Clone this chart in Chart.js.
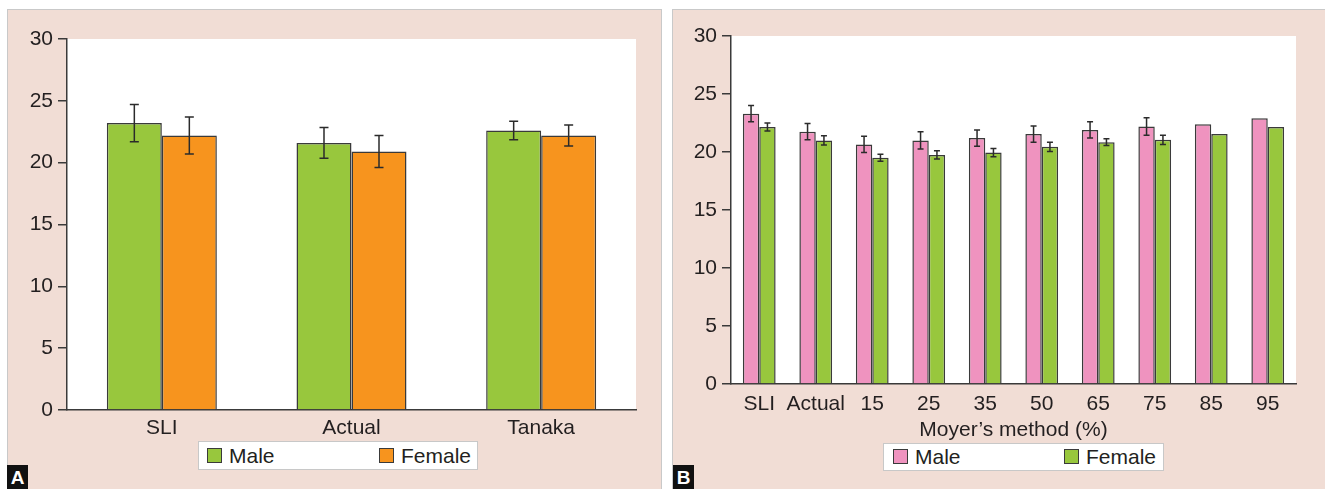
<!DOCTYPE html>
<html>
<head>
<meta charset="utf-8">
<script src="https://cdn.jsdelivr.net/npm/chart.js@4.4.1/dist/chart.umd.min.js"></script>
<style>
    body { margin: 0; width: 1325px; height: 489px; background: #fff; position: relative; overflow: hidden;
           font-family: "Liberation Sans", Arial, sans-serif; color: #231f20; }
    .panel { position: absolute; top: 9px; height: 480px; background: #f1ddd5; box-sizing: border-box;
             border: 1px solid #c9c9c9; border-bottom: none; }
    .panel canvas { position: absolute; left: 0; top: 0; }
    .legend { position: absolute; background: #fff; border: 1px solid #c8c8c8; box-sizing: border-box; }
    .legend .sw { position: absolute; top: 6px; width: 15px; height: 15px; box-sizing: border-box; border: 1px solid #3a3a3a; }
    .legend .lb { position: absolute; top: 1px; font-size: 21px; line-height: 25px; }
    .tag { position: absolute; background: #111; color: #fff; font-weight: bold; font-size: 19px;
           width: 21px; height: 24px; line-height: 25px; text-align: center; }
</style>
</head>
<body>
<div class="panel" id="panelA" style="left:7px; width:655px;">
    <canvas id="chartA" width="653" height="479"></canvas>
</div>
<div class="panel" id="panelB" style="left:672px; width:660px;">
    <canvas id="chartB" width="652" height="479"></canvas>
</div>

<div class="legend" style="left:198px; top:441px; width:280px; height:29px;">
    <div class="sw" style="left:8px; background:#98c73d;"></div><div class="lb" style="left:30px;">Male</div>
    <div class="sw" style="left:180px; background:#f7941e;"></div><div class="lb" style="left:202px;">Female</div>
</div>
<div class="legend" style="left:883px; top:443px; width:281px; height:28px;">
    <div class="sw" style="left:9px; top:5px; background:#ef93bf;"></div><div class="lb" style="left:31px; top:0;">Male</div>
    <div class="sw" style="left:180px; top:5px; background:#98c73d;"></div><div class="lb" style="left:202px; top:0;">Female</div>
</div>
<div class="tag" style="left:7px; top:465px;">A</div>
<div class="tag" style="left:673px; top:465px;">B</div>

<script>
// panel A: arch width by method
const methodsA = ['SLI', 'Actual', 'Tanaka'];
const maleA = [23.2, 21.6, 22.6];
const maleSdA = [1.5, 1.25, 0.75];
const femaleA = [22.2, 20.9, 22.2];
const femaleSdA = [1.5, 1.3, 0.85];

// panel B: Moyer's probability levels
const methodsB = ['SLI', 'Actual', '15', '25', '35', '50', '65', '75', '85', '95'];
const maleB = [23.3, 21.75, 20.65, 21.0, 21.2, 21.55, 21.9, 22.2, 22.4, 22.9];
const maleSdB = [0.7, 0.7, 0.7, 0.75, 0.7, 0.7, 0.7, 0.75, null, null];
const femaleB = [22.15, 21.0, 19.5, 19.75, 19.95, 20.45, 20.85, 21.05, 21.55, 22.15];
const femaleSdB = [0.35, 0.4, 0.3, 0.35, 0.35, 0.4, 0.3, 0.4, null, null];

const yTicks = [0, 5, 10, 15, 20, 25, 30];

const textColor = '#231f20';
const axisColor = '#3a3a3a';

Chart.defaults.font.family = '"Liberation Sans", Arial, sans-serif';
Chart.defaults.font.size = 21;
Chart.defaults.color = textColor;

// white plotting area on top of the tinted panel
const plotBackground = {
    id: 'plotBackground',
    beforeDraw(chart) {
        const { ctx, chartArea: a } = chart;
        ctx.save();
        ctx.fillStyle = '#fff';
        ctx.fillRect(a.left, a.top, a.right - a.left, a.bottom - a.top);
        ctx.restore();
    }
};

// mean ± SD whiskers
const errorBars = {
    id: 'errorBars',
    afterDatasetsDraw(chart, args, opts) {
        const ctx = chart.ctx;
        const y = chart.scales.y;
        ctx.save();
        ctx.strokeStyle = '#2b2b2b';
        ctx.lineWidth = 1.5;
        chart.data.datasets.forEach((ds, i) => {
            chart.getDatasetMeta(i).data.forEach((bar, j) => {
                const sd = ds.errors[j];
                if (sd == null) return;
                const x = bar.x;
                const top = y.getPixelForValue(ds.data[j] + sd);
                const bottom = y.getPixelForValue(ds.data[j] - sd);
                const half = opts.capWidth / 2;
                ctx.beginPath();
                ctx.moveTo(x, top); ctx.lineTo(x, bottom);
                ctx.moveTo(x - half, top); ctx.lineTo(x + half, top);
                ctx.moveTo(x - half, bottom); ctx.lineTo(x + half, bottom);
                ctx.stroke();
            });
        });
        ctx.restore();
    }
};

function makeDataset(label, data, errors, color) {
    return {
        label: label,
        data: data,
        errors: errors,
        backgroundColor: color,
        borderColor: axisColor,
        borderWidth: 1.5,
        categoryPercentage: 0.58,
        barPercentage: 1.0
    };
}

function makeChart(canvasId, labels, datasets, cfg) {
    return new Chart(document.getElementById(canvasId), {
        type: 'bar',
        data: { labels: labels, datasets: datasets },
        plugins: [plotBackground, errorBars],
        options: {
            responsive: false,
            devicePixelRatio: 1,
            animation: false,
            layout: { padding: cfg.padding },
            plugins: {
                legend: { display: false },
                tooltip: { enabled: false },
                errorBars: { capWidth: cfg.capWidth }
            },
            scales: {
                x: {
                    grid: { display: false, drawTicks: false },
                    border: { display: true, color: axisColor, width: 1.5 },
                    ticks: { autoSkip: false, maxRotation: 0, padding: cfg.xPad, color: textColor },
                    title: cfg.xTitle ? { display: true, text: cfg.xTitle, padding: { top: 0, bottom: 0 }, color: textColor } : { display: false },
                    afterFit(scale) { scale.height = cfg.xHeight; }
                },
                y: {
                    min: 0,
                    max: 30,
                    afterBuildTicks(scale) { scale.ticks = yTicks.map(v => ({ value: v })); },
                    grid: { drawOnChartArea: false, tickLength: 9, color: axisColor, lineWidth: 1.5 },
                    border: { display: true, color: axisColor, width: 1.5 },
                    ticks: { padding: 5, color: textColor },
                    afterFit(scale) { scale.width = cfg.yWidth; }
                }
            }
        }
    });
}

makeChart('chartA', methodsA, [
    makeDataset('Male', maleA, maleSdA, '#98c73d'),
    makeDataset('Female', femaleA, femaleSdA, '#f7941e')
], { padding: { top: 29, right: 25, bottom: 0, left: 0 }, yWidth: 59, xHeight: 79, xPad: 6, capWidth: 9 });

makeChart('chartB', methodsB, [
    makeDataset('Male', maleB, maleSdB, '#ef93bf'),
    makeDataset('Female', femaleB, femaleSdB, '#98c73d')
], { padding: { top: 26, right: 29, bottom: 46, left: 0 }, yWidth: 58, xHeight: 59, xPad: 8, capWidth: 6, xTitle: 'Moyer\u2019s method (%)' });
</script>
</body>
</html>
